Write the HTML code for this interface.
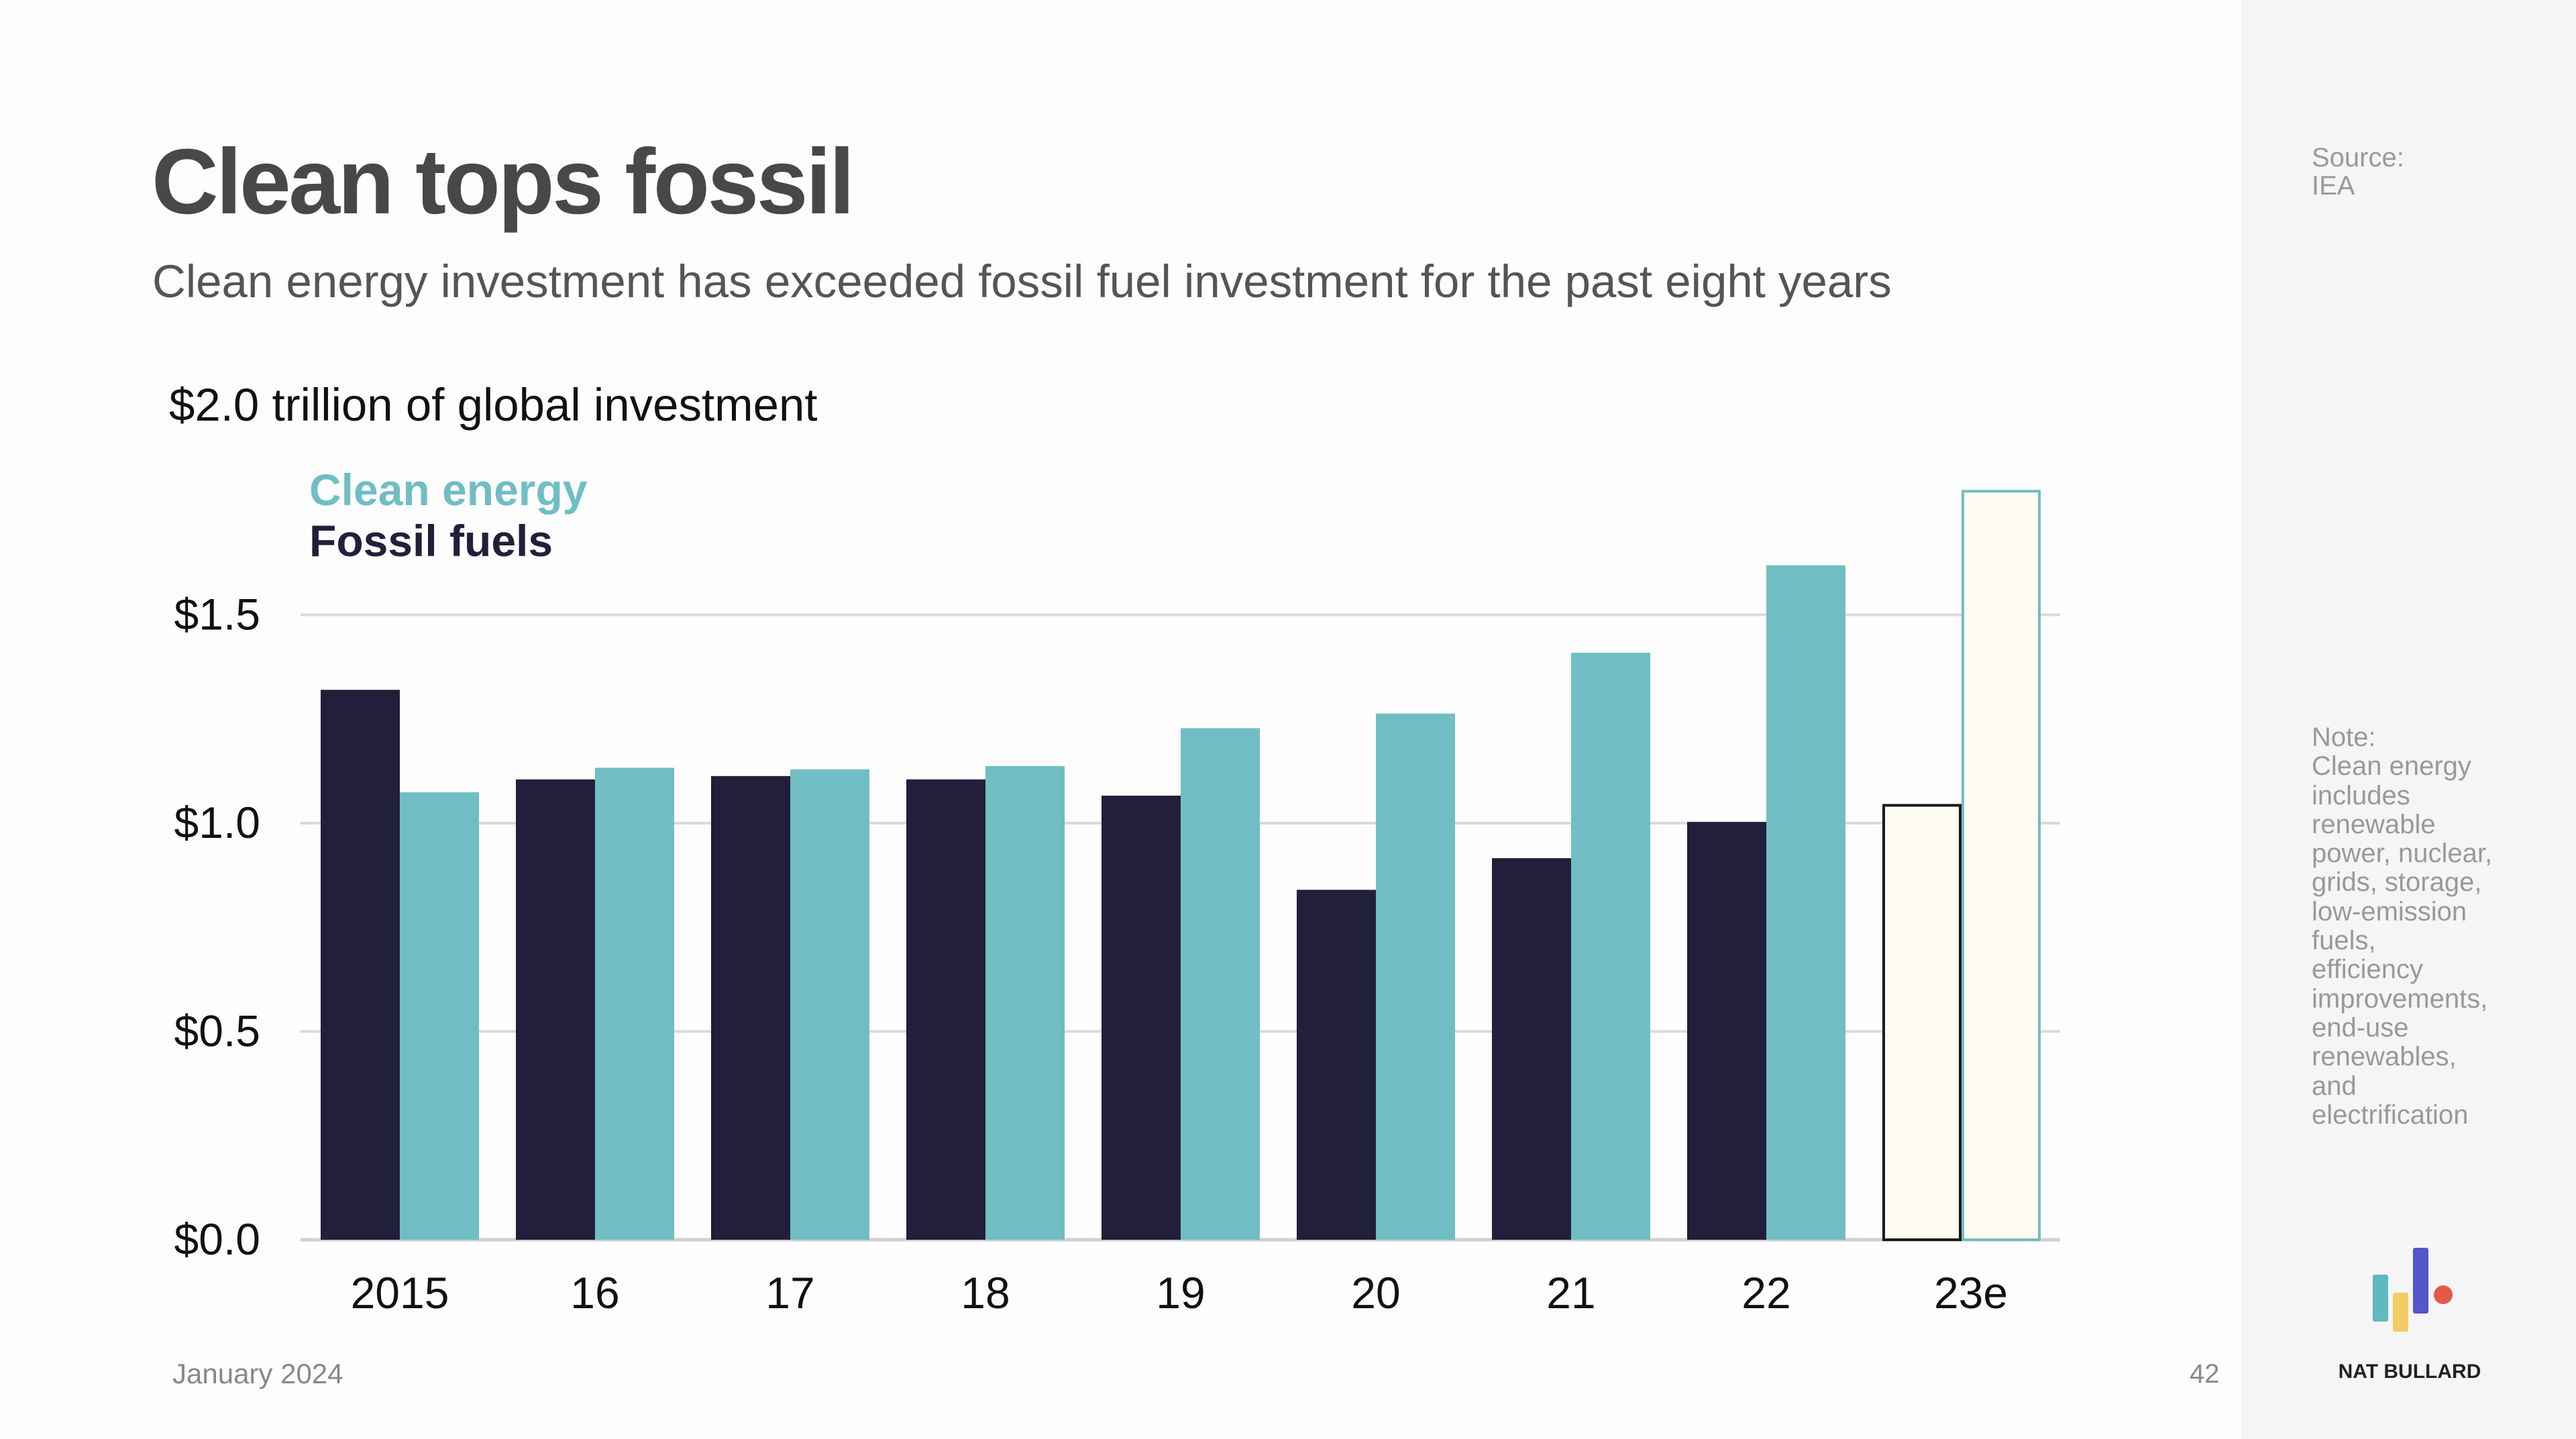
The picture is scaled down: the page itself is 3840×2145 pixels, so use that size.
<!DOCTYPE html>
<html><head><meta charset="utf-8">
<style>
body{margin:0;width:3840px;height:2145px;overflow:hidden;background:#fdfdfd;font-family:"Liberation Sans",sans-serif;}
#side{position:absolute;left:3341px;top:0;width:499px;height:2145px;background:#f5f5f6;}
.t{position:absolute;white-space:nowrap;}
</style></head><body>
<div id="side"></div>
<div class="t" style="left:226px;top:192px;font-size:138px;font-weight:bold;color:#484848;letter-spacing:-3.5px;">Clean tops fossil</div>
<div class="t" style="left:227px;top:380px;font-size:69px;color:#555;">Clean energy investment has exceeded fossil fuel investment for the past eight years</div>
<div class="t" style="left:252px;top:564px;font-size:69px;color:#111;">$2.0 trillion of global investment</div>
<div class="t" style="left:461px;top:692px;font-size:66px;font-weight:bold;color:#6fbec4;">Clean energy</div>
<div class="t" style="left:461px;top:768px;font-size:66px;font-weight:bold;color:#221f3b;">Fossil fuels</div>
<div class="t" style="left:257px;top:2024px;font-size:42px;color:#888;">January 2024</div>
<div class="t" style="left:3264px;top:2026px;font-size:40px;color:#888;">42</div>
<div class="t" style="left:3446px;top:214px;font-size:40px;line-height:42px;color:#999;">Source:<br>IEA</div>
<div class="t" style="left:3446px;top:1078px;font-size:40px;line-height:43.3px;color:#999;">Note:<br>Clean energy<br>includes<br>renewable<br>power, nuclear,<br>grids, storage,<br>low-emission<br>fuels,<br>efficiency<br>improvements,<br>end-use<br>renewables,<br>and<br>electrification</div>
<svg style="position:absolute;left:0;top:0" width="3840" height="2145">
<rect x="3537" y="1900" width="23" height="70" rx="3" fill="#5fb9c0"/>
<rect x="3567" y="1927" width="23" height="58" rx="3" fill="#f2cc63"/>
<rect x="3597" y="1860" width="23" height="98" rx="3" fill="#5357c9"/>
<circle cx="3642" cy="1930" r="14" fill="#e4584c"/>
<text x="3592" y="2054" font-size="30" font-weight="bold" text-anchor="middle" fill="#222" font-family="Liberation Sans">NAT BULLARD</text>
</svg>
<svg id="chart" style="position:absolute;left:0;top:0" width="3840" height="2145"></svg>
<script>
const categories=["2015","16","17","18","19","20","21","22","23e"];
const fossil=[1.32,1.105,1.113,1.105,1.066,0.84,0.916,1.003,1.046];
const clean=[1.074,1.133,1.129,1.137,1.228,1.263,1.409,1.619,1.80];
const yTicks=[0,0.5,1.0,1.5];
const yTickLabels=["$0.0","$0.5","$1.0","$1.5"];
const NS="http://www.w3.org/2000/svg";
const svg=document.getElementById('chart');
const y0=1848,pxPerUnit=621;
function y(v){return y0-v*pxPerUnit;}
const x0=478,step=291,bw=118;
function x(i){return x0+i*step;}
function mk(t,a){const e=document.createElementNS(NS,t);for(const k in a)e.setAttribute(k,a[k]);svg.appendChild(e);return e;}
yTicks.forEach((v,i)=>{
  const g=mk('line',{x1:448,x2:3071,y1:y(v),y2:y(v),stroke:v===0?'#cfcfcf':'#dadada','stroke-width':v===0?5:4});
  
  
  const t=mk('text',{x:388,y:y(v)+22,'font-size':66,'text-anchor':'end',fill:'#111','font-family':'Liberation Sans'});
  t.textContent=yTickLabels[i];
  
  
});
categories.forEach((c,i)=>{
  const est=i===categories.length-1;
  const f=mk('rect',{x:x(i)+(est?2:0),y:y(fossil[i])+(est?2:0),width:bw-(est?4:0),height:y0-y(fossil[i])-(est?2:0),fill:est?'#fefbf3':'#221f3b',stroke:est?'#1a1a1a':'none','stroke-width':est?4:0});
  
  
  const k=mk('rect',{x:x(i)+bw+(est?2:0),y:y(clean[i])+(est?2:0),width:bw-(est?4:0),height:y0-y(clean[i])-(est?2:0),fill:est?'#fefbf3':'#70bec3',stroke:est?'#70bec3':'none','stroke-width':est?4:0});
  
  
  const t=mk('text',{x:x(i)+bw+(est?14:0),y:1950,'font-size':66,'text-anchor':'middle',fill:'#111','font-family':'Liberation Sans'});
  t.textContent=c;
  
  
});
</script>
</body></html>
